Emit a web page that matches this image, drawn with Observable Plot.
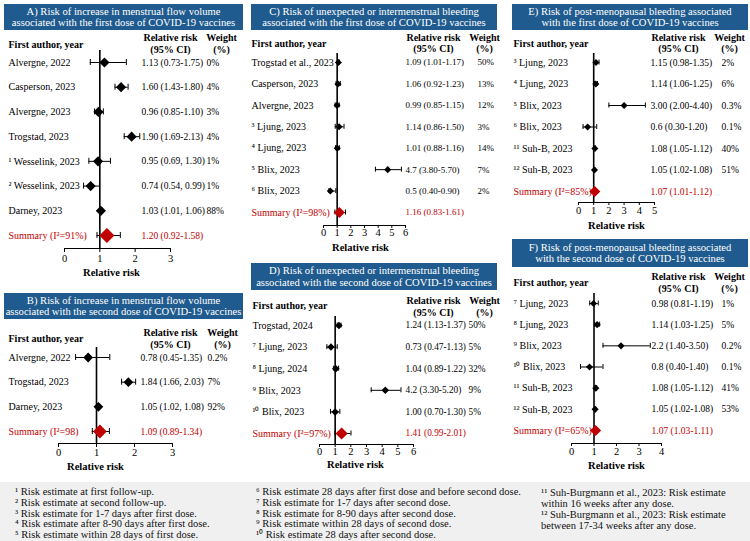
<!DOCTYPE html>
<html><head><meta charset="utf-8">
<script src="https://cdn.jsdelivr.net/npm/d3@7"></script>
<script src="https://cdn.jsdelivr.net/npm/@observablehq/plot@0.6"></script>
<style>
body{margin:0;background:#fff;font-family:"Liberation Serif","Times New Roman",serif;}
#root{position:relative;width:750px;height:541px;overflow:hidden;background:#fff;}
.hdr{position:absolute;background:#1f5b8e;color:#fff;font-size:10.6px;line-height:11.5px;text-align:center;display:flex;flex-direction:column;align-items:center;justify-content:center;white-space:nowrap;}
.pl{position:absolute;}
.foot{position:absolute;left:0;top:482px;width:750px;height:59px;background:#f0f0f0;}
.fn{position:absolute;font-size:10.5px;line-height:11px;white-space:nowrap;color:#111;}
</style></head><body><div id="root"></div>
<script>
// ---------- DATA ----------
const titleA = ["A) Risk of increase in menstrual flow volume", "associated with the first dose of COVID-19 vaccines"];
const authorsA = ["Alvergne, 2022", "Casperson, 2023", "Alvergne, 2023", "Trogstad, 2023", "¹ Wesselink, 2023", "² Wesselink, 2023", "Darney, 2023"];
const rrA = [1.13, 1.60, 0.96, 1.90, 0.95, 0.74, 1.03];
const loA = [0.73, 1.43, 0.85, 1.69, 0.69, 0.54, 1.01];
const hiA = [1.75, 1.80, 1.10, 2.13, 1.30, 0.99, 1.06];
const ciTextA = ["1.13 (0.73-1.75)", "1.60 (1.43-1.80)", "0.96 (0.85-1.10)", "1.90 (1.69-2.13)", "0.95 (0.69, 1.30)", "0.74 (0.54, 0.99)", "1.03 (1.01, 1.06)"];
const weightA = ["0%", "4%", "3%", "4%", "1%", "1%", "88%"];
const summaryA = [1.20, 0.92, 1.58];
const summaryLabelA = "Summary (I²=91%)";
const summaryTextA = "1.20 (0.92-1.58)";
const ticksA = [0, 1, 2, 3];

const titleB = ["B) Risk of increase in menstrual flow volume", "associated with the second dose of COVID-19 vaccines"];
const authorsB = ["Alvergne, 2022", "Trogstad, 2023", "Darney, 2023"];
const rrB = [0.78, 1.84, 1.05];
const loB = [0.45, 1.66, 1.02];
const hiB = [1.35, 2.03, 1.08];
const ciTextB = ["0.78 (0.45-1.35)", "1.84 (1.66, 2.03)", "1.05 (1.02, 1.08)"];
const weightB = ["0.2%", "7%", "92%"];
const summaryB = [1.09, 0.89, 1.34];
const summaryLabelB = "Summary (I²=98)";
const summaryTextB = "1.09 (0.89-1.34)";
const ticksB = [0, 1, 2, 3];

const titleC = ["C) Risk of unexpected or intermenstrual bleeding", "associated with the first dose of COVID-19 vaccines"];
const authorsC = ["Trogstad et al., 2023", "Casperson, 2023", "Alvergne, 2023", "³ Ljung, 2023", "⁴ Ljung, 2023", "⁵ Blix, 2023", "⁶ Blix, 2023"];
const rrC = [1.09, 1.06, 0.99, 1.14, 1.01, 4.7, 0.5];
const loC = [1.01, 0.92, 0.85, 0.86, 0.88, 3.80, 0.40];
const hiC = [1.17, 1.23, 1.15, 1.50, 1.16, 5.70, 0.90];
const ciTextC = ["1.09 (1.01-1.17)", "1.06 (0.92-1.23)", "0.99 (0.85-1.15)", "1.14 (0.86-1.50)", "1.01 (0.88-1.16)", "4.7 (3.80-5.70)", "0.5 (0.40-0.90)"];
const weightC = ["50%", "13%", "12%", "3%", "14%", "7%", "2%"];
const summaryC = [1.16, 0.83, 1.61];
const summaryLabelC = "Summary (I²=98%)";
const summaryTextC = "1.16 (0.83-1.61)";
const ticksC = [0, 1, 2, 3, 4, 5, 6];

const titleD = ["D) Risk of unexpected or intermenstrual bleeding", "associated with the second dose of COVID-19 vaccines"];
const authorsD = ["Trogstad, 2024", "⁷ Ljung, 2023", "⁸ Ljung, 2024", "⁹ Blix, 2023", "¹⁰ Blix, 2023"];
const rrD = [1.24, 0.73, 1.04, 4.2, 1.00];
const loD = [1.13, 0.47, 0.89, 3.30, 0.70];
const hiD = [1.37, 1.13, 1.22, 5.20, 1.30];
const ciTextD = ["1.24 (1.13-1.37)", "0.73 (0.47-1.13)", "1.04 (0.89-1.22)", "4.2 (3.30-5.20)", "1.00 (0.70-1.30)"];
const weightD = ["50%", "5%", "32%", "9%", "5%"];
const summaryD = [1.41, 0.99, 2.01];
const summaryLabelD = "Summary (I²=97%)";
const summaryTextD = "1.41 (0.99-2.01)";
const ticksD = [0, 1, 2, 3, 4, 5, 6];

const titleE = ["E) Risk of post-menopausal bleeding associated", "with the first dose of COVID-19 vaccines"];
const authorsE = ["³ Ljung, 2023", "⁴ Ljung, 2023", "⁵ Blix, 2023", "⁶ Blix, 2023", "¹¹ Suh-B, 2023", "¹² Suh-B, 2023"];
const rrE = [1.15, 1.14, 3.00, 0.6, 1.08, 1.05];
const loE = [0.98, 1.06, 2.00, 0.30, 1.05, 1.02];
const hiE = [1.35, 1.25, 4.40, 1.20, 1.12, 1.08];
const ciTextE = ["1.15 (0.98-1.35)", "1.14 (1.06-1.25)", "3.00 (2.00-4.40)", "0.6 (0.30-1.20)", "1.08 (1.05-1.12)", "1.05 (1.02-1.08)"];
const weightE = ["2%", "6%", "0.3%", "0.1%", "40%", "51%"];
const summaryE = [1.07, 1.01, 1.12];
const summaryLabelE = "Summary (I²=85%)";
const summaryTextE = "1.07 (1.01-1.12)";
const ticksE = [0, 1, 2, 3, 4, 5];

const titleF = ["F) Risk of post-menopausal bleeding associated", "with the second dose of COVID-19 vaccines"];
const authorsF = ["⁷ Ljung, 2023", "⁸ Ljung, 2023", "⁹ Blix, 2023", "¹⁰ Blix, 2023", "¹¹ Suh-B, 2023", "¹² Suh-B, 2023"];
const rrF = [0.98, 1.14, 2.2, 0.8, 1.08, 1.05];
const loF = [0.81, 1.03, 1.40, 0.40, 1.05, 1.02];
const hiF = [1.19, 1.25, 3.50, 1.40, 1.12, 1.08];
const ciTextF = ["0.98 (0.81-1.19)", "1.14 (1.03-1.25)", "2.2 (1.40-3.50)", "0.8 (0.40-1.40)", "1.08 (1.05-1.12)", "1.05 (1.02-1.08)"];
const weightF = ["1%", "5%", "0.2%", "0.1%", "41%", "53%"];
const summaryF = [1.07, 1.03, 1.11];
const summaryLabelF = "Summary (I²=65%)";
const summaryTextF = "1.07 (1.03-1.11)";
const ticksF = [0, 1, 2, 3, 4];

const colHeaders = ["First author, year", "Relative risk\n(95% CI)", "Weight\n(%)"];
const axisLabel = "Relative risk";

const footCol1 = ["¹ Risk estimate at first follow-up.", "² Risk estimate at second follow-up.", "³ Risk estimate for 1-7 days after first dose.", "⁴ Risk estimate after 8-90 days after first dose.", "⁵ Risk estimate within 28 days of first dose."];
const footCol2 = ["⁶ Risk estimate 28 days after first dose and before second dose.", "⁷ Risk estimate for 1-7 days after second dose.", "⁸ Risk estimate for 8-90 days after second dose.", "⁹ Risk estimate within 28 days of second dose.", "¹⁰ Risk estimate 28 days after second dose."];
const footCol3 = ["¹¹ Suh-Burgmann et al., 2023: Risk estimate", "within 16 weeks after any dose.", "¹² Suh-Burgmann et al., 2023: Risk estimate", "between 17-34 weeks after any dose."];

// ---------- LAYOUT ----------
const RED = "#c00000";
const root = document.getElementById("root");

function header(lines, box) {
  const d = document.createElement("div");
  d.className = "hdr";
  Object.assign(d.style, {left: box.x + "px", top: box.y + "px", width: box.w + "px", height: box.h + "px"});
  lines.forEach(t => { const s = document.createElement("div"); s.textContent = t; d.appendChild(s); });
  root.appendChild(d);
}

function panel(cfg, d) {
  const n = d.authors.length;
  const rows = d.authors.map((a, i) => ({i, author: a, rr: d.rr[i], lo: d.lo[i], hi: d.hi[i], text: d.ci[i], w: d.weight[i]}));
  const sum = [{i: n, author: d.sumLabel, rr: d.sum[0], lo: d.sum[1], hi: d.sum[2], text: d.sumText}];
  const all = rows.concat(sum);
  const sp = (cfg.last - cfg.first) / n;
  const yTop = -(cfg.first - cfg.refTop) / sp;
  const yBot = n + (cfg.axis - cfg.last) / sp;
  const xmax = d.ticks[d.ticks.length - 1];
  const mL = cfg.x0 - cfg.left, mR = cfg.left + cfg.width - cfg.x1;
  const mT = cfg.refTop - cfg.top, mB = cfg.top + cfg.height - cfg.axis;
  const fa = {frameAnchor: "left", textAnchor: "start", lineAnchor: "middle", fontSize: 10};
  const fn = {frameAnchor: "left", textAnchor: "start", lineAnchor: "middle", fontSize: cfg.numSize};
  const hd = {frameAnchor: "top-left", lineAnchor: "middle", fontWeight: "bold", fontSize: 10, lineHeight: 1.15, fill: "black"};
  const cap = cfg.cap;
  const p = Plot.plot({
    width: cfg.width, height: cfg.height,
    marginLeft: mL, marginRight: mR, marginTop: mT, marginBottom: mB,
    x: {domain: [0, xmax]},
    y: {domain: [yTop, yBot], reverse: true, axis: null},
    style: {fontFamily: "Liberation Serif, Times New Roman, serif", fontSize: "10px", color: "black", background: "transparent", overflow: "visible"},
    marks: [
      Plot.ruleY([yBot], {x1: d.ticks[0], x2: xmax, stroke: "black", strokeWidth: 1}),
      Plot.axisX({ticks: d.ticks, tickSize: cfg.tickSize, tickPadding: cfg.tickPad, tickFormat: v => String(v), label: null, fontSize: 10.5, stroke: "black"}),
      Plot.text([axisLabel], {frameAnchor: "bottom", lineAnchor: "middle", dx: cfg.labelX - (cfg.x0 + cfg.x1) / 2, dy: cfg.labelDy, fontWeight: "bold", fontSize: 10.5, fill: "black"}),
      Plot.ruleX([1], {stroke: "black", strokeWidth: 1.6}),
      Plot.ruleY(all, {y: "i", x1: "lo", x2: "hi", stroke: "black", strokeWidth: 1}),
      Plot.ruleX(all, {x: "lo", y1: "i", y2: "i", insetTop: -cap, insetBottom: -cap, stroke: "black", strokeWidth: 1}),
      Plot.ruleX(all, {x: "hi", y1: "i", y2: "i", insetTop: -cap, insetBottom: -cap, stroke: "black", strokeWidth: 1}),
      Plot.dot(rows, {x: "rr", y: "i", symbol: "diamond2", r: cfg.r, fill: "black", stroke: null}),
      Plot.dot(sum, {x: "rr", y: "i", symbol: "diamond2", r: cfg.sr, fill: RED, stroke: null}),
      Plot.text(rows, {y: "i", text: "author", dx: cfg.authorX - cfg.x0, fill: "black", ...fa}),
      Plot.text(rows, {y: "i", text: "text", dx: cfg.rrX - cfg.x0, fill: "black", ...fn}),
      Plot.text(rows, {y: "i", text: "w", dx: cfg.wX - cfg.x0, fill: "black", ...fn}),
      Plot.text(sum, {y: "i", text: "author", dx: cfg.authorX - cfg.x0, fill: RED, ...fa}),
      Plot.text(sum, {y: "i", text: "text", dx: cfg.rrX - cfg.x0, fill: RED, ...fn}),
      Plot.text([colHeaders[0]], {...hd, dx: cfg.authorX - cfg.x0, dy: cfg.faY - cfg.refTop, textAnchor: "start"}),
      Plot.text([colHeaders[1]], {...hd, dx: cfg.rrHX - cfg.x0, dy: cfg.rrHY - cfg.refTop, textAnchor: "middle"}),
      Plot.text([colHeaders[2]], {...hd, dx: cfg.wHX - cfg.x0, dy: cfg.rrHY - cfg.refTop, textAnchor: "middle"})
    ]
  });
  p.classList.add("pl");
  p.style.left = cfg.left + "px";
  p.style.top = cfg.top + "px";
  root.appendChild(p);
}

const foot = document.createElement("div"); foot.className = "foot"; root.appendChild(foot);

header(titleA, {x: 4, y: 4, w: 239, h: 26});
header(titleB, {x: 4, y: 293, w: 239, h: 26});
header(titleC, {x: 251, y: 4, w: 246, h: 26});
header(titleD, {x: 251, y: 263, w: 246, h: 27});
header(titleE, {x: 512, y: 4, w: 236, h: 26});
header(titleF, {x: 512, y: 239, w: 236, h: 28});

panel({left: 0, top: 30, width: 245, height: 255, x0: 64, x1: 170, refTop: 50, first: 62, last: 235, axis: 248,
  authorX: 8, rrX: 141, wX: 206, rrHX: 170, wHX: 221, faY: 44, rrHY: 43, labelX: 111, labelDy: 24, r: 4.6, sr: 6.8, cap: 3, numSize: 9.5, tickSize: 4, tickPad: 2},
  {authors: authorsA, rr: rrA, lo: loA, hi: hiA, ci: ciTextA, weight: weightA, sum: summaryA, sumLabel: summaryLabelA, sumText: summaryTextA, ticks: ticksA});

panel({left: 0, top: 320, width: 245, height: 160, x0: 58, x1: 172, refTop: 347, first: 357, last: 431, axis: 443,
  authorX: 8, rrX: 140, wX: 207, rrHX: 170, wHX: 222, faY: 338, rrHY: 338, labelX: 95, labelDy: 23, r: 4.4, sr: 6.2, cap: 3, numSize: 9.5, tickSize: 4, tickPad: 1},
  {authors: authorsB, rr: rrB, lo: loB, hi: hiB, ci: ciTextB, weight: weightB, sum: summaryB, sumLabel: summaryLabelB, sumText: summaryTextB, ticks: ticksB});

panel({left: 248, top: 30, width: 252, height: 226, x0: 323, x1: 405, refTop: 53, first: 62, last: 212, axis: 225,
  authorX: 251, rrX: 405, wX: 477, rrHX: 433, wHX: 484, faY: 43, rrHY: 42.5, labelX: 360, labelDy: 22, r: 3.2, sr: 5, cap: 2.5, numSize: 9, tickSize: 3, tickPad: 0},
  {authors: authorsC, rr: rrC, lo: loC, hi: hiC, ci: ciTextC, weight: weightC, sum: summaryC, sumLabel: summaryLabelC, sumText: summaryTextC, ticks: ticksC});

panel({left: 248, top: 291, width: 252, height: 184, x0: 319, x1: 413, refTop: 316, first: 325, last: 433, axis: 444,
  authorX: 252, rrX: 405, wX: 468, rrHX: 433, wHX: 484, faY: 305, rrHY: 306, labelX: 355, labelDy: 20.5, r: 3.4, sr: 5.5, cap: 2.5, numSize: 9.3, tickSize: 3, tickPad: 0},
  {authors: authorsD, rr: rrD, lo: loD, hi: hiD, ci: ciTextD, weight: weightD, sum: summaryD, sumLabel: summaryLabelD, sumText: summaryTextD, ticks: ticksD});

panel({left: 502, top: 30, width: 248, height: 205, x0: 578, x1: 654, refTop: 53, first: 62, last: 191, axis: 202,
  authorX: 513, rrX: 650, wX: 721, rrHX: 678, wHX: 729, faY: 43, rrHY: 42.5, labelX: 616, labelDy: 23, r: 3.2, sr: 5, cap: 2.5, numSize: 9.5, tickSize: 3, tickPad: 1},
  {authors: authorsE, rr: rrE, lo: loE, hi: hiE, ci: ciTextE, weight: weightE, sum: summaryE, sumLabel: summaryLabelE, sumText: summaryTextE, ticks: ticksE});

panel({left: 502, top: 268, width: 248, height: 207, x0: 571, x1: 661, refTop: 293, first: 303, last: 430, axis: 443,
  authorX: 513, rrX: 651, wX: 721, rrHX: 678, wHX: 729, faY: 282, rrHY: 282, labelX: 616, labelDy: 22, r: 3.2, sr: 5, cap: 2.5, numSize: 9.5, tickSize: 3, tickPad: 1},
  {authors: authorsF, rr: rrF, lo: loF, hi: hiF, ci: ciTextF, weight: weightF, sum: summaryF, sumLabel: summaryLabelF, sumText: summaryTextF, ticks: ticksF});

function footCol(lines, x, y0, step) {
  lines.forEach((t, k) => {
    const d = document.createElement("div");
    d.className = "fn";
    d.textContent = t;
    d.style.left = x + "px";
    d.style.top = (y0 + k * step) + "px";
    root.appendChild(d);
  });
}
footCol(footCol1, 15, 486, 10.8);
footCol(footCol2, 256, 486, 10.8);
footCol(footCol3, 541, 487, 11);
</script>
</body></html>
